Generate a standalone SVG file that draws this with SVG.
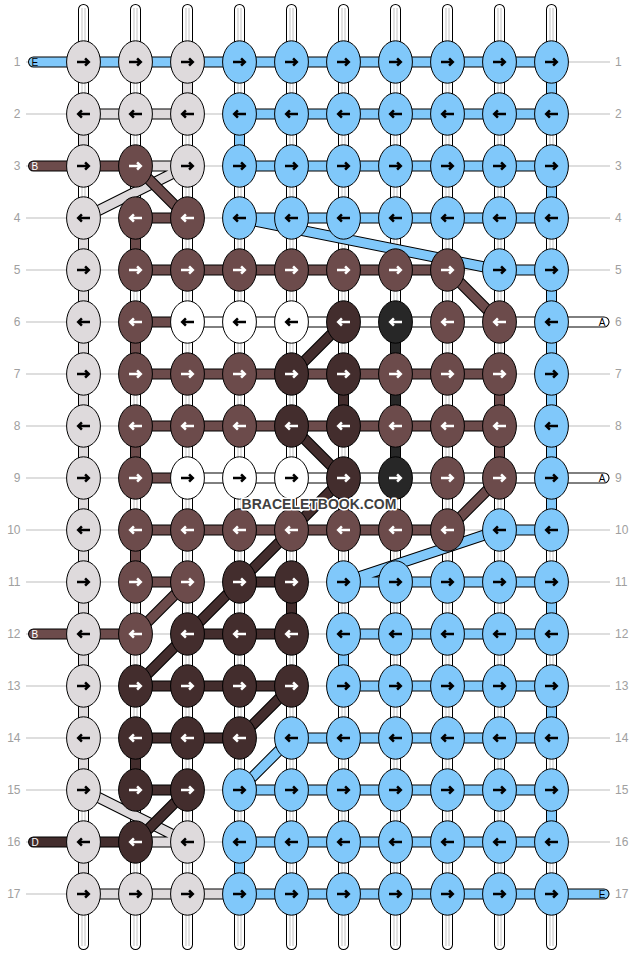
<svg xmlns="http://www.w3.org/2000/svg" xmlns:xlink="http://www.w3.org/1999/xlink" width="636" height="956" viewBox="0 0 636 956">
<style>
.num{font-family:"Liberation Sans",Arial,sans-serif;font-size:12px;fill:#a0a0a0}
.lab{font-family:"Liberation Sans",Arial,sans-serif;font-size:10px}
.o{fill:none;stroke:#000;stroke-width:11;stroke-linecap:round;stroke-linejoin:round}
.f{fill:none;stroke-width:9;stroke-linecap:round;stroke-linejoin:round}
.cG{stroke:#DEDADC}.cL{stroke:#80C8FA}.cB{stroke:#6C4B4B}.cD{stroke:#432D2D}.cK{stroke:#272727}.cW{stroke:#fff}
.G{fill:#DEDADC;stroke:#000}.L{fill:#80C8FA;stroke:#000}.W{fill:#fff;stroke:#000}
.B{fill:#6C4B4B;stroke:#fff}.D{fill:#432D2D;stroke:#fff}.K{fill:#272727;stroke:#fff}
.wm{font-family:"Liberation Sans",Arial,sans-serif;font-size:14px;font-weight:bold;fill:#404040;stroke:#fff;stroke-width:3;paint-order:stroke;stroke-linejoin:round}
</style>
<defs>
<ellipse id="e" rx="16.9" ry="21.2" stroke="#000" stroke-width="1"/>
<path id="R" d="M-6.5 0H5M1.6-3.7L5.3 0L1.6 3.7" fill="none" stroke-width="2.5"/>
<path id="Lf" d="M6.5 0H-5M-1.6-3.7L-5.3 0L-1.6 3.7" fill="none" stroke-width="2.5"/>
</defs>
<rect width="636" height="956" fill="#fff"/>
<g id="guides" stroke="#bdbdbd" stroke-width="1">
<path d="M26 62H610M26 114H610M26 166H610M26 218H610M26 270H610M26 322H610M26 374H610M26 426H610M26 478H610M26 530H610M26 582H610M26 634H610M26 686H610M26 738H610M26 790H610M26 842H610M26 894H610"/>
</g>
<g id="rownums" class="num">
<g text-anchor="end">
<text x="20.5" y="66.3">1</text><text x="20.5" y="118.3">2</text><text x="20.5" y="170.3">3</text><text x="20.5" y="222.3">4</text><text x="20.5" y="274.3">5</text><text x="20.5" y="326.3">6</text><text x="20.5" y="378.3">7</text><text x="20.5" y="430.3">8</text><text x="20.5" y="482.3">9</text><text x="20.5" y="534.3">10</text><text x="20.5" y="586.3">11</text><text x="20.5" y="638.3">12</text><text x="20.5" y="690.3">13</text><text x="20.5" y="742.3">14</text><text x="20.5" y="794.3">15</text><text x="20.5" y="846.3">16</text><text x="20.5" y="898.3">17</text>
</g>
<g text-anchor="start">
<text x="615" y="66.3">1</text><text x="615" y="118.3">2</text><text x="615" y="170.3">3</text><text x="615" y="222.3">4</text><text x="615" y="274.3">5</text><text x="615" y="326.3">6</text><text x="615" y="378.3">7</text><text x="615" y="430.3">8</text><text x="615" y="482.3">9</text><text x="615" y="534.3">10</text><text x="615" y="586.3">11</text><text x="615" y="638.3">12</text><text x="615" y="690.3">13</text><text x="615" y="742.3">14</text><text x="615" y="794.3">15</text><text x="615" y="846.3">16</text><text x="615" y="898.3">17</text>
</g>
</g>
<g id="strings" fill="none" stroke-linecap="round">
<path stroke="#000" stroke-width="11" d="M83.5 9.5V944.5M135.5 9.5V944.5M187.5 9.5V944.5M239.5 9.5V944.5M291.5 9.5V944.5M343.5 9.5V944.5M395.5 9.5V944.5M447.5 9.5V944.5M499.5 9.5V944.5M551.5 9.5V944.5"/>
<path stroke="#fff" stroke-width="9" d="M83.5 9.5V944.5M135.5 9.5V944.5M187.5 9.5V944.5M239.5 9.5V944.5M291.5 9.5V944.5M343.5 9.5V944.5M395.5 9.5V944.5M447.5 9.5V944.5M499.5 9.5V944.5M551.5 9.5V944.5"/>
<path stroke="#c4c4c4" stroke-width="4" stroke-linecap="butt" d="M83.5 8V946M135.5 8V946M187.5 8V946M239.5 8V946M291.5 8V946M343.5 8V946M395.5 8V946M447.5 8V946M499.5 8V946M551.5 8V946"/>
<path stroke="#fff" stroke-width="2" stroke-linecap="butt" d="M83.5 8V946M135.5 8V946M187.5 8V946M239.5 8V946M291.5 8V946M343.5 8V946M395.5 8V946M447.5 8V946M499.5 8V946M551.5 8V946"/>
</g>
<g id="connectors">
<g id="thread-grey">
<path class="o" d="M187.5 62V114M83.5 114H187.5M83.5 114V166M135.5 166H187.5M187.5 166L83.5 218M83.5 218V790M83.5 790L187.5 842M135.5 842H187.5M83.5 842V894M83.5 894H239.5"/>
<path class="f cG" d="M187.5 62V114M83.5 114H187.5M83.5 114V166M135.5 166H187.5M187.5 166L83.5 218M83.5 218V790M83.5 790L187.5 842M135.5 842H187.5M83.5 842V894M83.5 894H239.5"/>
</g>
<g id="thread-white">
<path class="o" d="M187.5 322H604M187.5 478H604"/>
<path class="f cW" d="M187.5 322H604M187.5 478H604"/>
</g>
<g id="thread-blue">
<path class="o" d="M33.5 62H551.5V114M239.5 114H551.5M239.5 114V166H551.5V218M239.5 218H551.5M239.5 218L499.5 270H551.5V530M499.5 530H551.5M499.5 530L343.5 582H551.5V634M343.5 634H551.5M343.5 634V686H551.5V738M291.5 738H551.5M291.5 738L239.5 790H551.5V842M239.5 842H551.5M239.5 842V894H604"/>
<path class="f cL" d="M33.5 62H551.5V114M239.5 114H551.5M239.5 114V166H551.5V218M239.5 218H551.5M239.5 218L499.5 270H551.5V530M499.5 530H551.5M499.5 530L343.5 582H551.5V634M343.5 634H551.5M343.5 634V686H551.5V738M291.5 738H551.5M291.5 738L239.5 790H551.5V842M239.5 842H551.5M239.5 842V894H604"/>
</g>
<g id="thread-brown">
<path class="o" d="M33.5 166H135.5L187.5 218H135.5V270H447.5L499.5 322M135.5 322H187.5M135.5 322V374H499.5V426H135.5V478H187.5M499.5 426V478L447.5 530H135.5V582H187.5L135.5 634H33.5"/>
<path class="f cB" d="M33.5 166H135.5L187.5 218H135.5V270H447.5L499.5 322M135.5 322H187.5M135.5 322V374H499.5V426H135.5V478H187.5M499.5 426V478L447.5 530H135.5V582H187.5L135.5 634H33.5"/>
</g>
<g id="thread-dark">
<path class="o" d="M291.5 374L343.5 322M343.5 374V426M291.5 426L343.5 478L135.5 686M239.5 582H291.5V634H187.5M135.5 686H291.5L239.5 738H135.5V790H187.5L135.5 842H33.5"/>
<path class="f cD" d="M291.5 374L343.5 322M343.5 374V426M291.5 426L343.5 478L135.5 686M239.5 582H291.5V634H187.5M135.5 686H291.5L239.5 738H135.5V790H187.5L135.5 842H33.5"/>
</g>
<g id="thread-black">
<path class="o" d="M395.5 322V478"/>
<path class="f cK" d="M395.5 322V478"/>
</g>
</g>
<g id="endlabels" class="lab">
<text x="31.5" y="65.6" fill="#000">E</text>
<text x="31.5" y="169.6" fill="#fff">B</text>
<text x="31.5" y="637.6" fill="#fff">B</text>
<text x="31.5" y="845.6" fill="#fff">D</text>
<text x="605.5" y="325.6" fill="#000" text-anchor="end">A</text>
<text x="605.5" y="481.6" fill="#000" text-anchor="end">A</text>
<text x="605.5" y="897.6" fill="#000" text-anchor="end">E</text>
</g>
<g id="knots">
<g id="k1-1" class="G" transform="translate(83.5 62)"><use href="#e"/><use href="#R"/></g>
<g id="k1-2" class="G" transform="translate(135.5 62)"><use href="#e"/><use href="#R"/></g>
<g id="k1-3" class="G" transform="translate(187.5 62)"><use href="#e"/><use href="#R"/></g>
<g id="k1-4" class="L" transform="translate(239.5 62)"><use href="#e"/><use href="#R"/></g>
<g id="k1-5" class="L" transform="translate(291.5 62)"><use href="#e"/><use href="#R"/></g>
<g id="k1-6" class="L" transform="translate(343.5 62)"><use href="#e"/><use href="#R"/></g>
<g id="k1-7" class="L" transform="translate(395.5 62)"><use href="#e"/><use href="#R"/></g>
<g id="k1-8" class="L" transform="translate(447.5 62)"><use href="#e"/><use href="#R"/></g>
<g id="k1-9" class="L" transform="translate(499.5 62)"><use href="#e"/><use href="#R"/></g>
<g id="k1-10" class="L" transform="translate(551.5 62)"><use href="#e"/><use href="#R"/></g>
<g id="k2-1" class="G" transform="translate(83.5 114)"><use href="#e"/><use href="#Lf"/></g>
<g id="k2-2" class="G" transform="translate(135.5 114)"><use href="#e"/><use href="#Lf"/></g>
<g id="k2-3" class="G" transform="translate(187.5 114)"><use href="#e"/><use href="#Lf"/></g>
<g id="k2-4" class="L" transform="translate(239.5 114)"><use href="#e"/><use href="#Lf"/></g>
<g id="k2-5" class="L" transform="translate(291.5 114)"><use href="#e"/><use href="#Lf"/></g>
<g id="k2-6" class="L" transform="translate(343.5 114)"><use href="#e"/><use href="#Lf"/></g>
<g id="k2-7" class="L" transform="translate(395.5 114)"><use href="#e"/><use href="#Lf"/></g>
<g id="k2-8" class="L" transform="translate(447.5 114)"><use href="#e"/><use href="#Lf"/></g>
<g id="k2-9" class="L" transform="translate(499.5 114)"><use href="#e"/><use href="#Lf"/></g>
<g id="k2-10" class="L" transform="translate(551.5 114)"><use href="#e"/><use href="#Lf"/></g>
<g id="k3-1" class="G" transform="translate(83.5 166)"><use href="#e"/><use href="#R"/></g>
<g id="k3-2" class="B" transform="translate(135.5 166)"><use href="#e"/><use href="#R"/></g>
<g id="k3-3" class="G" transform="translate(187.5 166)"><use href="#e"/><use href="#R"/></g>
<g id="k3-4" class="L" transform="translate(239.5 166)"><use href="#e"/><use href="#R"/></g>
<g id="k3-5" class="L" transform="translate(291.5 166)"><use href="#e"/><use href="#R"/></g>
<g id="k3-6" class="L" transform="translate(343.5 166)"><use href="#e"/><use href="#R"/></g>
<g id="k3-7" class="L" transform="translate(395.5 166)"><use href="#e"/><use href="#R"/></g>
<g id="k3-8" class="L" transform="translate(447.5 166)"><use href="#e"/><use href="#R"/></g>
<g id="k3-9" class="L" transform="translate(499.5 166)"><use href="#e"/><use href="#R"/></g>
<g id="k3-10" class="L" transform="translate(551.5 166)"><use href="#e"/><use href="#R"/></g>
<g id="k4-1" class="G" transform="translate(83.5 218)"><use href="#e"/><use href="#Lf"/></g>
<g id="k4-2" class="B" transform="translate(135.5 218)"><use href="#e"/><use href="#Lf"/></g>
<g id="k4-3" class="B" transform="translate(187.5 218)"><use href="#e"/><use href="#Lf"/></g>
<g id="k4-4" class="L" transform="translate(239.5 218)"><use href="#e"/><use href="#Lf"/></g>
<g id="k4-5" class="L" transform="translate(291.5 218)"><use href="#e"/><use href="#Lf"/></g>
<g id="k4-6" class="L" transform="translate(343.5 218)"><use href="#e"/><use href="#Lf"/></g>
<g id="k4-7" class="L" transform="translate(395.5 218)"><use href="#e"/><use href="#Lf"/></g>
<g id="k4-8" class="L" transform="translate(447.5 218)"><use href="#e"/><use href="#Lf"/></g>
<g id="k4-9" class="L" transform="translate(499.5 218)"><use href="#e"/><use href="#Lf"/></g>
<g id="k4-10" class="L" transform="translate(551.5 218)"><use href="#e"/><use href="#Lf"/></g>
<g id="k5-1" class="G" transform="translate(83.5 270)"><use href="#e"/><use href="#R"/></g>
<g id="k5-2" class="B" transform="translate(135.5 270)"><use href="#e"/><use href="#R"/></g>
<g id="k5-3" class="B" transform="translate(187.5 270)"><use href="#e"/><use href="#R"/></g>
<g id="k5-4" class="B" transform="translate(239.5 270)"><use href="#e"/><use href="#R"/></g>
<g id="k5-5" class="B" transform="translate(291.5 270)"><use href="#e"/><use href="#R"/></g>
<g id="k5-6" class="B" transform="translate(343.5 270)"><use href="#e"/><use href="#R"/></g>
<g id="k5-7" class="B" transform="translate(395.5 270)"><use href="#e"/><use href="#R"/></g>
<g id="k5-8" class="B" transform="translate(447.5 270)"><use href="#e"/><use href="#R"/></g>
<g id="k5-9" class="L" transform="translate(499.5 270)"><use href="#e"/><use href="#R"/></g>
<g id="k5-10" class="L" transform="translate(551.5 270)"><use href="#e"/><use href="#R"/></g>
<g id="k6-1" class="G" transform="translate(83.5 322)"><use href="#e"/><use href="#Lf"/></g>
<g id="k6-2" class="B" transform="translate(135.5 322)"><use href="#e"/><use href="#Lf"/></g>
<g id="k6-3" class="W" transform="translate(187.5 322)"><use href="#e"/><use href="#Lf"/></g>
<g id="k6-4" class="W" transform="translate(239.5 322)"><use href="#e"/><use href="#Lf"/></g>
<g id="k6-5" class="W" transform="translate(291.5 322)"><use href="#e"/><use href="#Lf"/></g>
<g id="k6-6" class="D" transform="translate(343.5 322)"><use href="#e"/><use href="#Lf"/></g>
<g id="k6-7" class="K" transform="translate(395.5 322)"><use href="#e"/><use href="#Lf"/></g>
<g id="k6-8" class="B" transform="translate(447.5 322)"><use href="#e"/><use href="#Lf"/></g>
<g id="k6-9" class="B" transform="translate(499.5 322)"><use href="#e"/><use href="#Lf"/></g>
<g id="k6-10" class="L" transform="translate(551.5 322)"><use href="#e"/><use href="#Lf"/></g>
<g id="k7-1" class="G" transform="translate(83.5 374)"><use href="#e"/><use href="#R"/></g>
<g id="k7-2" class="B" transform="translate(135.5 374)"><use href="#e"/><use href="#R"/></g>
<g id="k7-3" class="B" transform="translate(187.5 374)"><use href="#e"/><use href="#R"/></g>
<g id="k7-4" class="B" transform="translate(239.5 374)"><use href="#e"/><use href="#R"/></g>
<g id="k7-5" class="D" transform="translate(291.5 374)"><use href="#e"/><use href="#R"/></g>
<g id="k7-6" class="D" transform="translate(343.5 374)"><use href="#e"/><use href="#R"/></g>
<g id="k7-7" class="B" transform="translate(395.5 374)"><use href="#e"/><use href="#R"/></g>
<g id="k7-8" class="B" transform="translate(447.5 374)"><use href="#e"/><use href="#R"/></g>
<g id="k7-9" class="B" transform="translate(499.5 374)"><use href="#e"/><use href="#R"/></g>
<g id="k7-10" class="L" transform="translate(551.5 374)"><use href="#e"/><use href="#R"/></g>
<g id="k8-1" class="G" transform="translate(83.5 426)"><use href="#e"/><use href="#Lf"/></g>
<g id="k8-2" class="B" transform="translate(135.5 426)"><use href="#e"/><use href="#Lf"/></g>
<g id="k8-3" class="B" transform="translate(187.5 426)"><use href="#e"/><use href="#Lf"/></g>
<g id="k8-4" class="B" transform="translate(239.5 426)"><use href="#e"/><use href="#Lf"/></g>
<g id="k8-5" class="D" transform="translate(291.5 426)"><use href="#e"/><use href="#Lf"/></g>
<g id="k8-6" class="D" transform="translate(343.5 426)"><use href="#e"/><use href="#Lf"/></g>
<g id="k8-7" class="B" transform="translate(395.5 426)"><use href="#e"/><use href="#Lf"/></g>
<g id="k8-8" class="B" transform="translate(447.5 426)"><use href="#e"/><use href="#Lf"/></g>
<g id="k8-9" class="B" transform="translate(499.5 426)"><use href="#e"/><use href="#Lf"/></g>
<g id="k8-10" class="L" transform="translate(551.5 426)"><use href="#e"/><use href="#Lf"/></g>
<g id="k9-1" class="G" transform="translate(83.5 478)"><use href="#e"/><use href="#R"/></g>
<g id="k9-2" class="B" transform="translate(135.5 478)"><use href="#e"/><use href="#R"/></g>
<g id="k9-3" class="W" transform="translate(187.5 478)"><use href="#e"/><use href="#R"/></g>
<g id="k9-4" class="W" transform="translate(239.5 478)"><use href="#e"/><use href="#R"/></g>
<g id="k9-5" class="W" transform="translate(291.5 478)"><use href="#e"/><use href="#R"/></g>
<g id="k9-6" class="D" transform="translate(343.5 478)"><use href="#e"/><use href="#R"/></g>
<g id="k9-7" class="K" transform="translate(395.5 478)"><use href="#e"/><use href="#R"/></g>
<g id="k9-8" class="B" transform="translate(447.5 478)"><use href="#e"/><use href="#R"/></g>
<g id="k9-9" class="B" transform="translate(499.5 478)"><use href="#e"/><use href="#R"/></g>
<g id="k9-10" class="L" transform="translate(551.5 478)"><use href="#e"/><use href="#R"/></g>
<g id="k10-1" class="G" transform="translate(83.5 530)"><use href="#e"/><use href="#Lf"/></g>
<g id="k10-2" class="B" transform="translate(135.5 530)"><use href="#e"/><use href="#Lf"/></g>
<g id="k10-3" class="B" transform="translate(187.5 530)"><use href="#e"/><use href="#Lf"/></g>
<g id="k10-4" class="B" transform="translate(239.5 530)"><use href="#e"/><use href="#Lf"/></g>
<g id="k10-5" class="B" transform="translate(291.5 530)"><use href="#e"/><use href="#Lf"/></g>
<g id="k10-6" class="B" transform="translate(343.5 530)"><use href="#e"/><use href="#Lf"/></g>
<g id="k10-7" class="B" transform="translate(395.5 530)"><use href="#e"/><use href="#Lf"/></g>
<g id="k10-8" class="B" transform="translate(447.5 530)"><use href="#e"/><use href="#Lf"/></g>
<g id="k10-9" class="L" transform="translate(499.5 530)"><use href="#e"/><use href="#Lf"/></g>
<g id="k10-10" class="L" transform="translate(551.5 530)"><use href="#e"/><use href="#Lf"/></g>
<g id="k11-1" class="G" transform="translate(83.5 582)"><use href="#e"/><use href="#R"/></g>
<g id="k11-2" class="B" transform="translate(135.5 582)"><use href="#e"/><use href="#R"/></g>
<g id="k11-3" class="B" transform="translate(187.5 582)"><use href="#e"/><use href="#R"/></g>
<g id="k11-4" class="D" transform="translate(239.5 582)"><use href="#e"/><use href="#R"/></g>
<g id="k11-5" class="D" transform="translate(291.5 582)"><use href="#e"/><use href="#R"/></g>
<g id="k11-6" class="L" transform="translate(343.5 582)"><use href="#e"/><use href="#R"/></g>
<g id="k11-7" class="L" transform="translate(395.5 582)"><use href="#e"/><use href="#R"/></g>
<g id="k11-8" class="L" transform="translate(447.5 582)"><use href="#e"/><use href="#R"/></g>
<g id="k11-9" class="L" transform="translate(499.5 582)"><use href="#e"/><use href="#R"/></g>
<g id="k11-10" class="L" transform="translate(551.5 582)"><use href="#e"/><use href="#R"/></g>
<g id="k12-1" class="G" transform="translate(83.5 634)"><use href="#e"/><use href="#Lf"/></g>
<g id="k12-2" class="B" transform="translate(135.5 634)"><use href="#e"/><use href="#Lf"/></g>
<g id="k12-3" class="D" transform="translate(187.5 634)"><use href="#e"/><use href="#Lf"/></g>
<g id="k12-4" class="D" transform="translate(239.5 634)"><use href="#e"/><use href="#Lf"/></g>
<g id="k12-5" class="D" transform="translate(291.5 634)"><use href="#e"/><use href="#Lf"/></g>
<g id="k12-6" class="L" transform="translate(343.5 634)"><use href="#e"/><use href="#Lf"/></g>
<g id="k12-7" class="L" transform="translate(395.5 634)"><use href="#e"/><use href="#Lf"/></g>
<g id="k12-8" class="L" transform="translate(447.5 634)"><use href="#e"/><use href="#Lf"/></g>
<g id="k12-9" class="L" transform="translate(499.5 634)"><use href="#e"/><use href="#Lf"/></g>
<g id="k12-10" class="L" transform="translate(551.5 634)"><use href="#e"/><use href="#Lf"/></g>
<g id="k13-1" class="G" transform="translate(83.5 686)"><use href="#e"/><use href="#R"/></g>
<g id="k13-2" class="D" transform="translate(135.5 686)"><use href="#e"/><use href="#R"/></g>
<g id="k13-3" class="D" transform="translate(187.5 686)"><use href="#e"/><use href="#R"/></g>
<g id="k13-4" class="D" transform="translate(239.5 686)"><use href="#e"/><use href="#R"/></g>
<g id="k13-5" class="D" transform="translate(291.5 686)"><use href="#e"/><use href="#R"/></g>
<g id="k13-6" class="L" transform="translate(343.5 686)"><use href="#e"/><use href="#R"/></g>
<g id="k13-7" class="L" transform="translate(395.5 686)"><use href="#e"/><use href="#R"/></g>
<g id="k13-8" class="L" transform="translate(447.5 686)"><use href="#e"/><use href="#R"/></g>
<g id="k13-9" class="L" transform="translate(499.5 686)"><use href="#e"/><use href="#R"/></g>
<g id="k13-10" class="L" transform="translate(551.5 686)"><use href="#e"/><use href="#R"/></g>
<g id="k14-1" class="G" transform="translate(83.5 738)"><use href="#e"/><use href="#Lf"/></g>
<g id="k14-2" class="D" transform="translate(135.5 738)"><use href="#e"/><use href="#Lf"/></g>
<g id="k14-3" class="D" transform="translate(187.5 738)"><use href="#e"/><use href="#Lf"/></g>
<g id="k14-4" class="D" transform="translate(239.5 738)"><use href="#e"/><use href="#Lf"/></g>
<g id="k14-5" class="L" transform="translate(291.5 738)"><use href="#e"/><use href="#Lf"/></g>
<g id="k14-6" class="L" transform="translate(343.5 738)"><use href="#e"/><use href="#Lf"/></g>
<g id="k14-7" class="L" transform="translate(395.5 738)"><use href="#e"/><use href="#Lf"/></g>
<g id="k14-8" class="L" transform="translate(447.5 738)"><use href="#e"/><use href="#Lf"/></g>
<g id="k14-9" class="L" transform="translate(499.5 738)"><use href="#e"/><use href="#Lf"/></g>
<g id="k14-10" class="L" transform="translate(551.5 738)"><use href="#e"/><use href="#Lf"/></g>
<g id="k15-1" class="G" transform="translate(83.5 790)"><use href="#e"/><use href="#R"/></g>
<g id="k15-2" class="D" transform="translate(135.5 790)"><use href="#e"/><use href="#R"/></g>
<g id="k15-3" class="D" transform="translate(187.5 790)"><use href="#e"/><use href="#R"/></g>
<g id="k15-4" class="L" transform="translate(239.5 790)"><use href="#e"/><use href="#R"/></g>
<g id="k15-5" class="L" transform="translate(291.5 790)"><use href="#e"/><use href="#R"/></g>
<g id="k15-6" class="L" transform="translate(343.5 790)"><use href="#e"/><use href="#R"/></g>
<g id="k15-7" class="L" transform="translate(395.5 790)"><use href="#e"/><use href="#R"/></g>
<g id="k15-8" class="L" transform="translate(447.5 790)"><use href="#e"/><use href="#R"/></g>
<g id="k15-9" class="L" transform="translate(499.5 790)"><use href="#e"/><use href="#R"/></g>
<g id="k15-10" class="L" transform="translate(551.5 790)"><use href="#e"/><use href="#R"/></g>
<g id="k16-1" class="G" transform="translate(83.5 842)"><use href="#e"/><use href="#Lf"/></g>
<g id="k16-2" class="D" transform="translate(135.5 842)"><use href="#e"/><use href="#Lf"/></g>
<g id="k16-3" class="G" transform="translate(187.5 842)"><use href="#e"/><use href="#Lf"/></g>
<g id="k16-4" class="L" transform="translate(239.5 842)"><use href="#e"/><use href="#Lf"/></g>
<g id="k16-5" class="L" transform="translate(291.5 842)"><use href="#e"/><use href="#Lf"/></g>
<g id="k16-6" class="L" transform="translate(343.5 842)"><use href="#e"/><use href="#Lf"/></g>
<g id="k16-7" class="L" transform="translate(395.5 842)"><use href="#e"/><use href="#Lf"/></g>
<g id="k16-8" class="L" transform="translate(447.5 842)"><use href="#e"/><use href="#Lf"/></g>
<g id="k16-9" class="L" transform="translate(499.5 842)"><use href="#e"/><use href="#Lf"/></g>
<g id="k16-10" class="L" transform="translate(551.5 842)"><use href="#e"/><use href="#Lf"/></g>
<g id="k17-1" class="G" transform="translate(83.5 894)"><use href="#e"/><use href="#R"/></g>
<g id="k17-2" class="G" transform="translate(135.5 894)"><use href="#e"/><use href="#R"/></g>
<g id="k17-3" class="G" transform="translate(187.5 894)"><use href="#e"/><use href="#R"/></g>
<g id="k17-4" class="L" transform="translate(239.5 894)"><use href="#e"/><use href="#R"/></g>
<g id="k17-5" class="L" transform="translate(291.5 894)"><use href="#e"/><use href="#R"/></g>
<g id="k17-6" class="L" transform="translate(343.5 894)"><use href="#e"/><use href="#R"/></g>
<g id="k17-7" class="L" transform="translate(395.5 894)"><use href="#e"/><use href="#R"/></g>
<g id="k17-8" class="L" transform="translate(447.5 894)"><use href="#e"/><use href="#R"/></g>
<g id="k17-9" class="L" transform="translate(499.5 894)"><use href="#e"/><use href="#R"/></g>
<g id="k17-10" class="L" transform="translate(551.5 894)"><use href="#e"/><use href="#R"/></g>
</g>
<text id="watermark" class="wm" x="319" y="509" text-anchor="middle">BRACELETBOOK.COM</text>
</svg>
